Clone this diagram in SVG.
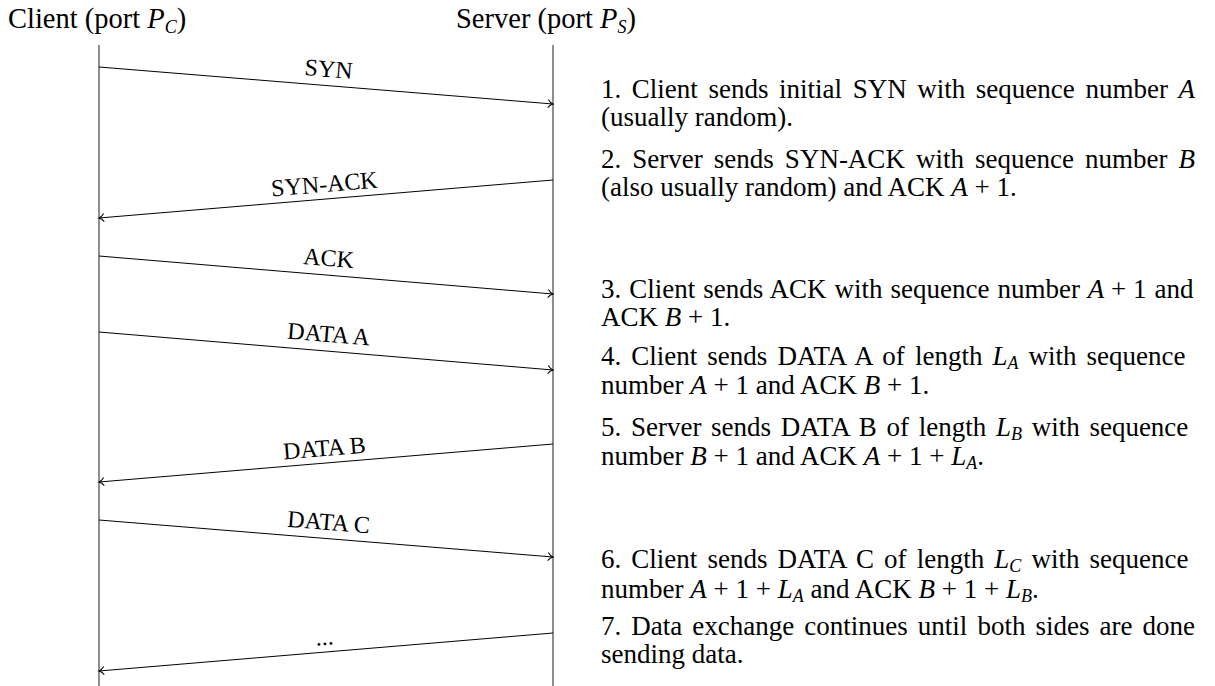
<svg xmlns="http://www.w3.org/2000/svg" width="1215" height="686" viewBox="0 0 1215 686">
<style>
text{font-family:"Liberation Serif","DejaVu Serif",serif;font-size:27px;fill:#000}
.t{font-size:28.5px}
.lbl{font-size:24px;text-anchor:middle}
.m{font-style:italic}
.s{font-size:18px;font-style:italic}
.life{stroke:#444;stroke-width:1.2;fill:none}
.msg{stroke:#000;stroke-width:1;fill:none;marker-end:url(#ah)}
</style>
<defs>
<marker id="ah" markerWidth="12" markerHeight="12" refX="8" refY="6" orient="auto" markerUnits="userSpaceOnUse">
<path d="M3 2 Q5 5 8 6 Q5 7 3 10" fill="none" stroke="#000" stroke-width="1"/>
</marker>
</defs>
<rect width="1215" height="686" fill="#fff"/>
<g id="client">
<text class="t" x="8" y="28">Client (port <tspan class="m">P</tspan><tspan class="s" dy="5">C</tspan><tspan dy="-5">)</tspan></text>
<line class="life" x1="99" y1="45" x2="99" y2="686"/>
</g>
<g id="server">
<text class="t" x="456" y="28">Server (port <tspan class="m">P</tspan><tspan class="s" dy="5">S</tspan><tspan dy="-5">)</tspan></text>
<line class="life" x1="553" y1="45" x2="553" y2="686"/>
</g>
<g id="connectors">
<line class="msg" x1="99" y1="67" x2="553" y2="104"/>
<line class="msg" x1="553" y1="180" x2="99" y2="218"/>
<line class="msg" x1="99" y1="256" x2="553" y2="294"/>
<line class="msg" x1="99" y1="332" x2="553" y2="370"/>
<line class="msg" x1="553" y1="444" x2="99" y2="482"/>
<line class="msg" x1="99" y1="520" x2="553" y2="557"/>
<line class="msg" x1="553" y1="633" x2="99" y2="671"/>
<text class="lbl" transform="translate(328,77) rotate(4.66)">SYN</text>
<text class="lbl" transform="translate(325,192) rotate(-4.78)">SYN-ACK</text>
<text class="lbl" transform="translate(328,266) rotate(4.78)">ACK</text>
<text class="lbl" transform="translate(328,342) rotate(4.78)">DATA A</text>
<text class="lbl" transform="translate(325,456) rotate(-4.78)">DATA B</text>
<text class="lbl" transform="translate(328,530) rotate(4.66)">DATA C</text>
<text class="lbl" transform="translate(325,645) rotate(-4.78)">...</text>
</g>
<g id="notes">
<text x="601" y="98" style="word-spacing:3.85px">1. Client sends initial SYN with sequence number <tspan class="m">A</tspan></text>
<text x="601" y="126">(usually random).</text>
<text x="601" y="168" style="word-spacing:4.3px">2. Server sends SYN-ACK with sequence number <tspan class="m">B</tspan></text>
<text x="601" y="196">(also usually random) and ACK <tspan class="m">A</tspan>&#8197;+&#8197;1.</text>
<text x="601" y="298" style="word-spacing:1.2px">3. Client sends ACK with sequence number <tspan class="m">A</tspan>&#8197;+&#8197;1 and</text>
<text x="601" y="326">ACK <tspan class="m">B</tspan>&#8197;+&#8197;1.</text>
<text x="601" y="365" style="word-spacing:3.3px">4. Client sends DATA A of length <tspan class="m">L</tspan><tspan class="s" dy="4">A</tspan><tspan dy="-4"> with sequence</tspan></text>
<text x="601" y="394">number <tspan class="m">A</tspan>&#8197;+&#8197;1 and ACK <tspan class="m">B</tspan>&#8197;+&#8197;1.</text>
<text x="601" y="436" style="word-spacing:2.95px">5. Server sends DATA B of length <tspan class="m">L</tspan><tspan class="s" dy="4">B</tspan><tspan dy="-4"> with sequence</tspan></text>
<text x="601" y="465">number <tspan class="m">B</tspan>&#8197;+&#8197;1 and ACK <tspan class="m">A</tspan>&#8197;+&#8197;1&#8197;+&#8197;<tspan class="m">L</tspan><tspan class="s" dy="4">A</tspan><tspan dy="-4">.</tspan></text>
<text x="601" y="568" style="word-spacing:3.35px">6. Client sends DATA C of length <tspan class="m">L</tspan><tspan class="s" dy="4">C</tspan><tspan dy="-4"> with sequence</tspan></text>
<text x="601" y="598">number <tspan class="m">A</tspan>&#8197;+&#8197;1&#8197;+&#8197;<tspan class="m">L</tspan><tspan class="s" dy="4">A</tspan><tspan dy="-4"> and ACK </tspan><tspan class="m">B</tspan>&#8197;+&#8197;1&#8197;+&#8197;<tspan class="m">L</tspan><tspan class="s" dy="4">B</tspan><tspan dy="-4">.</tspan></text>
<text x="601" y="635" style="word-spacing:3.3px">7. Data exchange continues until both sides are done</text>
<text x="601" y="663">sending data.</text>
</g>
</svg>
